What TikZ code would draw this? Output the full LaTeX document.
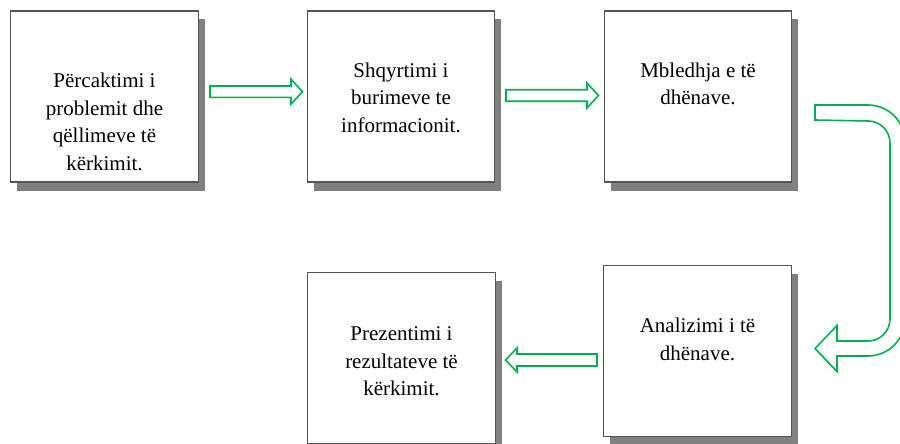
\documentclass[tikz,border=0pt]{standalone}
\usepackage{fontspec}
\setmainfont{Liberation Serif}
\usetikzlibrary{calc,shadows}
\definecolor{agreen}{RGB}{0,176,80}
\definecolor{shadowgray}{RGB}{128,128,128}
\definecolor{boxborder}{RGB}{85,85,85}
\begin{document}
\begin{tikzpicture}[x=1pt,y=-1pt,
  box/.style={draw=boxborder, line width=1.2pt, fill=white,
    minimum width=187.5pt, minimum height=171pt, inner sep=0pt, outer sep=0pt,
    drop shadow={shadow xshift=6.5pt, shadow yshift=-8.5pt, fill=shadowgray, opacity=1}},
  txt/.style={anchor=north, align=center, inner sep=0pt,
    font=\fontsize{21}{27.5}\selectfont},
  blockarrow/.style={draw=agreen, line width=1.6pt, fill=white, line join=miter}]
\clip (0,0) rectangle (900,444);
% boxes
\node[box] (b1) at (104.5,96.5) {};
\node[box] (b2) at (401,96.5) {};
\node[box] (b3) at (698,96.5) {};
\node[box] (b4) at (697.5,351) {};
\node[box] (b5) at (401.5,358) {};
% texts
\node[txt] (t1) at ($(b1.north)+(0,61.3)$) {\rule{0pt}{15pt}Përcaktimi i\\problemit dhe\\qëllimeve të\\kërkimit.};
\node[txt] (t2) at ($(b2.north)+(0,51)$) {\rule{0pt}{15pt}Shqyrtimi i\\burimeve te\\informacionit.};
\node[txt] (t3) at ($(b3.north)+(0,51)$) {\rule{0pt}{15pt}Mbledhja e të\\dhënave.};
\node[txt] (t4) at ($(b4.north)+(0,52)$) {\rule{0pt}{15pt}Analizimi i të\\dhënave.};
\node[txt] (t5) at ($(b5.north)+(0,53)$) {\rule{0pt}{15pt}Prezentimi i\\rezultateve të\\kërkimit.};
% block arrows
\draw[blockarrow] (210,86) -- (291,86) -- (291,79.2) -- (302.5,91.7) -- (291,104.2) -- (291,97.4) -- (210,97.4) -- cycle;
\draw[blockarrow] (506,89.8) -- (587,89.8) -- (587,83) -- (598.5,95.5) -- (587,108) -- (587,101.2) -- (506,101.2) -- cycle;
\draw[blockarrow] (597,354) -- (517,354) -- (517,348) -- (505.5,360) -- (517,372) -- (517,366) -- (597,366) -- cycle;
\draw[blockarrow] (815,105) -- (868,105) arc[start angle=90, end angle=0, radius=37pt]
  -- (905,319) arc[start angle=0, end angle=-90, radius=37pt]
  -- (837,356) -- (837,371.5) -- (815,348.5) -- (837,325.5) -- (837,341)
  -- (868,341) arc[start angle=-90, end angle=0, radius=22pt]
  -- (890,143) arc[start angle=0, end angle=90, radius=22pt]
  -- (815,120) -- cycle;
\end{tikzpicture}
\end{document}
